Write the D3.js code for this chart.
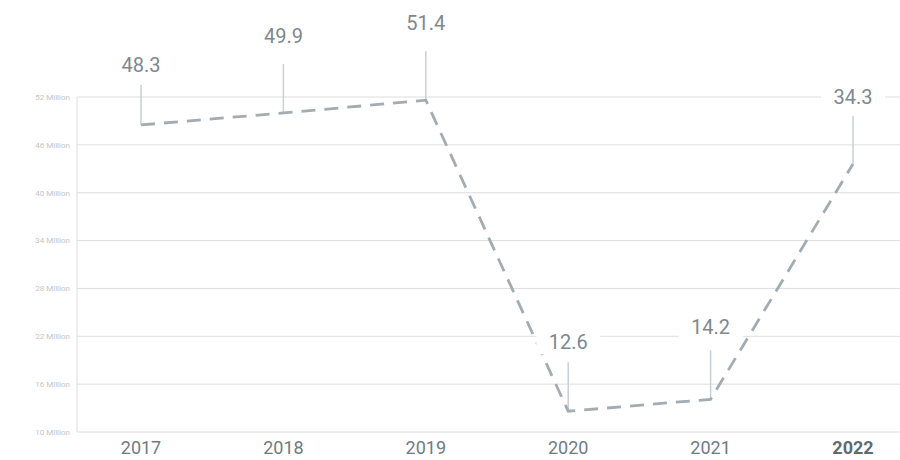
<!DOCTYPE html>
<html>
<head>
<meta charset="utf-8">
<script src="https://cdn.jsdelivr.net/npm/d3@7"></script>
<style>
  body { margin: 0; background: #fff; }
  svg { display: block; font-family: Roboto, "DejaVu Sans", sans-serif; }
</style>
</head>
<body>
<svg id="chart" width="900" height="460"></svg>
<script>
// data
const years = ["2017", "2018", "2019", "2020", "2021", "2022"]
const values = [48.5, 50.0, 51.6, 12.6, 14.1, 43.6]   // plotted position (millions)
const valueLabels = ["48.3", "49.9", "51.4", "12.6", "14.2", "34.3"]
const yTicks = [10, 16, 22, 28, 34, 40, 46, 52]
const highlightYear = "2022"

// annotation layout (px above the point)
const labelLift = [60, 77, 77, 69, 72, 67]
const leaderLen = [40, 49, 49, 49, 49, 48]

const svg = d3.select("#chart")
const plotLeft = 77, plotRight = 900, plotTop = 97, plotBottom = 432

const x = d3.scalePoint().domain(years).range([141, 853])
const y = d3.scaleLinear().domain([10, 52]).range([plotBottom, plotTop])

// grid
svg.append("g")
  .selectAll("line")
  .data(yTicks)
  .join("line")
  .attr("x1", plotLeft).attr("x2", plotRight)
  .attr("y1", d => y(d)).attr("y2", d => y(d))
  .attr("stroke", "#dedede")
  .attr("stroke-width", 1)

svg.append("line")
  .attr("x1", plotLeft).attr("x2", plotLeft)
  .attr("y1", plotTop).attr("y2", plotBottom)
  .attr("stroke", "#dedede")

// y tick labels
svg.append("g")
  .selectAll("text")
  .data(yTicks)
  .join("text")
  .attr("x", plotLeft - 7)
  .attr("y", d => y(d))
  .attr("dy", "0.35em")
  .attr("text-anchor", "end")
  .style("font-size", "8px")
  .attr("fill", "#c4c4c4")
  .text(d => d + " Million")

// x labels
svg.append("g")
  .selectAll("text")
  .data(years)
  .join("text")
  .attr("x", d => x(d))
  .attr("y", 448)
  .attr("dy", "0.35em")
  .attr("text-anchor", "middle")
  .style("font-size", "18px")
  .style("font-weight", d => d === highlightYear ? "bold" : "normal")
  .attr("fill", d => d === highlightYear ? "#5f6b72" : "#6f7b83")
  .text(d => d)

const pts = years.map((yr, i) => ({ year: yr, v: values[i], label: valueLabels[i], i }))

// leader lines
svg.append("g")
  .selectAll("line")
  .data(pts)
  .join("line")
  .attr("x1", d => x(d.year)).attr("x2", d => x(d.year))
  .attr("y1", d => y(d.v)).attr("y2", d => y(d.v) - leaderLen[d.i])
  .attr("stroke", "#c9cfd3")
  .attr("stroke-width", 1.5)

// dashed line
const line = d3.line().x(d => x(d.year)).y(d => y(d.v))
svg.append("path")
  .datum(pts)
  .attr("d", line)
  .attr("fill", "none")
  .attr("stroke", "#a2acb2")
  .attr("stroke-width", 2.8)
  .attr("stroke-dasharray", "14,9")

// value labels with white backing
const lab = svg.append("g")
  .selectAll("g")
  .data(pts)
  .join("g")
  .attr("transform", d => `translate(${x(d.year)},${y(d.v) - labelLift[d.i]})`)

lab.append("rect")
  .attr("x", -32).attr("y", -12)
  .attr("width", 64).attr("height", 24)
  .attr("fill", "#fff")

lab.append("text")
  .attr("text-anchor", "middle")
  .attr("dy", "0.35em")
  .style("font-size", "20px")
  .attr("fill", "#7d8890")
  .text(d => d.label)
</script>
</body>
</html>
